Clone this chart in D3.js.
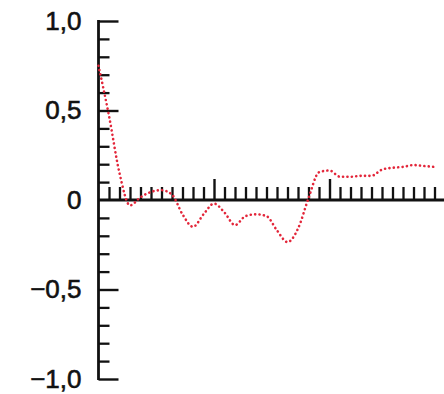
<!DOCTYPE html>
<html>
  <head>
    <meta charset="utf-8">
    <style>
      body { margin: 0; background: #fff; }
      svg { display: block; }
      .lbl text { font-family: "Liberation Sans", Arial, sans-serif; font-size: 26px; fill: #111; stroke: #111; stroke-width: 0.6px; }
    </style>
  </head>
  <body>
    <script src="https://cdn.jsdelivr.net/npm/d3@7"></script>
    <script>
    // lag values
    var lags = d3.range(0, 33);
    var acf = [0.75, 0.47, 0.15, -0.03, 0.015, 0.045, 0.055, 0.03, -0.08, -0.15,
               -0.08, -0.02, -0.07, -0.14, -0.09, -0.08, -0.09, -0.17, -0.235, -0.16,
               0.01, 0.155, 0.165, 0.13, 0.13, 0.135, 0.135, 0.17, 0.18, 0.185,
               0.195, 0.19, 0.185];
    var yMinor = [-0.9, -0.8, -0.7, -0.6, -0.4, -0.3, -0.2, -0.1, 0.1, 0.2, 0.3, 0.4, 0.6, 0.7, 0.8, 0.9];
    var yMajor = [-1, -0.5, 0.5, 1];
    var yLabels = [-1, -0.5, 0, 0.5, 1];
    var xMajor = [11, 22];

    var width = 444, height = 394;

    var svg = d3.select("body")
                .append("svg")
                  .attr("width", width)
                  .attr("height", height);

    var x = d3.scaleLinear().domain([0, 33]).range([98.5, 445]);
    var y = d3.scaleLinear().domain([-1, 1]).range([379, 21]);

    var locale = d3.formatLocale({decimal: ",", thousands: ".", grouping: [3], currency: ["", ""], minus: "\u2212"});
    var fmt = locale.format(".1f");

    function styleAxis(g, w) {
      g.select(".domain").remove();
      g.selectAll(".tick line").attr("stroke", "#111").attr("stroke-width", w);
      g.selectAll(".tick text").remove();
    }

    // y axis ticks
    svg.append("g")
        .attr("transform", "translate(" + x(0) + ",0)")
        .call(d3.axisRight(y).tickValues(yMinor).tickSize(11))
        .call(styleAxis, 2.3);
    svg.append("g")
        .attr("transform", "translate(" + x(0) + ",0)")
        .call(d3.axisRight(y).tickValues(yMajor).tickSize(20))
        .call(styleAxis, 2.4);

    // y labels
    svg.append("g")
        .attr("class", "lbl")
        .attr("transform", "translate(" + x(0) + ",0)")
        .call(d3.axisLeft(y).tickValues(yLabels).tickSize(0).tickPadding(17)
              .tickFormat(function(d) { return d === 0 ? "0" : fmt(d); }))
        .call(function(g) {
          g.select(".domain").remove();
          g.selectAll(".tick text").attr("font-size", null).attr("font-family", null).attr("fill", null);
        });

    // x axis ticks
    svg.append("g")
        .attr("transform", "translate(0," + y(0) + ")")
        .call(d3.axisTop(x).tickValues(d3.range(1, 34).filter(function(d) { return xMajor.indexOf(d) < 0; })).tickSize(13))
        .call(styleAxis, 2.3);
    svg.append("g")
        .attr("transform", "translate(0," + y(0) + ")")
        .call(d3.axisTop(x).tickValues(xMajor).tickSize(21))
        .call(styleAxis, 2.4);

    // axis lines
    svg.append("line")
        .attr("x1", x(0)).attr("x2", x(0))
        .attr("y1", y(1) - 1).attr("y2", y(-1) + 1)
        .attr("stroke", "#111").attr("stroke-width", 2.8);
    svg.append("line")
        .attr("x1", x(0)).attr("x2", width)
        .attr("y1", y(0)).attr("y2", y(0))
        .attr("stroke", "#111").attr("stroke-width", 2.8);

    // dotted correlation curve
    svg.append("path")
        .datum(lags)
        .attr("fill", "none")
        .attr("stroke", "#e3263a")
        .attr("stroke-width", 2.6)
        .attr("stroke-linecap", "round")
        .attr("stroke-dasharray", "0.1 4.3")
        .attr("d", d3.line()
          .curve(d3.curveMonotoneX)
          .x(function(d) { return x(d); })
          .y(function(d, i) { return y(acf[i]); }));
    </script>
  </body>
</html>
